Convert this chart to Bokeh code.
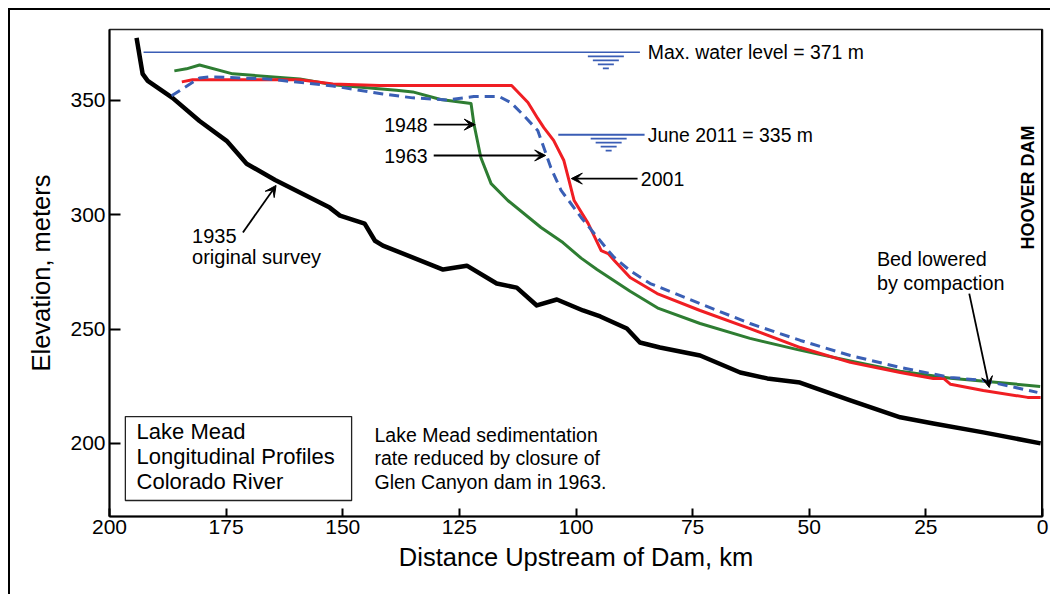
import math
from bokeh.plotting import figure
from bokeh.models import Range1d, Label, Arrow, VeeHead, Span, FixedTicker
from bokeh.embed import file_html
from bokeh.resources import INLINE

# ---------------- data ----------------
km_1935 = [194.2, 192.9, 191.8, 186.5, 180.7, 174.9, 170.6, 164.5, 152.8, 150.6,
           145.3, 143.1, 141.4, 128.5, 123.4, 117.0, 112.7, 108.4, 104.1, 98.5,
           94.8, 89.1, 86.3, 82.0, 73.4, 64.8, 59.0, 52.0, 41.2, 30.5,
           23.4, 12.7, 0.4]
elev_1935 = [377.3, 361.6, 358.5, 351.1, 341.0, 332.3, 322.3, 315.2, 303.1, 299.6,
             296.1, 288.6, 286.5, 276.0, 277.7, 269.9, 268.1, 260.3, 262.9, 258.1,
             255.5, 250.2, 244.1, 241.9, 238.4, 231.0, 228.4, 226.6, 218.8, 211.4,
             208.7, 204.8, 200.0]

km_1948 = [186.1, 183.5, 180.7, 173.6, 159.2, 152.1, 144.8, 138.5, 135.0, 129.0,
           122.5, 121.9, 120.4, 118.2, 114.6, 107.5, 102.8, 98.9, 95.5, 88.4,
           82.3, 73.4, 62.7, 52.5, 41.2, 30.5, 19.7, 0.5]
elev_1948 = [362.9, 363.8, 365.5, 361.6, 359.4, 356.8, 355.5, 354.4, 353.7, 350.4,
             348.6, 339.9, 325.0, 313.6, 306.2, 294.4, 287.8, 281.0, 276.0, 266.5,
             259.0, 252.4, 245.9, 241.0, 236.0, 231.5, 228.5, 224.9]

km_1963 = [186.7, 180.7, 178.5, 166.3, 152.1, 141.4, 135.0, 127.7, 121.9, 116.5,
           114.0, 111.2, 108.2, 106.9, 105.4, 103.2, 101.1, 98.9, 96.1, 93.1,
           91.8, 88.4, 84.1, 73.4, 62.7, 51.9, 41.2, 30.5, 19.7, 12.7, 1.1]
elev_1963 = [352.0, 359.8, 360.3, 359.4, 356.3, 352.8, 351.1, 350.2, 351.7, 351.7,
             349.1, 343.4, 336.8, 329.4, 320.6, 310.6, 304.9, 298.8, 291.8, 284.3,
             281.3, 275.5, 269.9, 261.1, 252.4, 245.0, 238.4, 233.2, 228.8, 227.5, 222.3]

km_2001 = [184.5, 182.2, 159.2, 152.1, 142.1, 113.8, 110.3, 108.2, 106.9, 104.8,
           102.6, 101.5, 100.4, 97.4, 94.6, 93.1, 91.8, 88.4, 82.6, 73.4,
           62.7, 51.9, 41.2, 30.5, 23.4, 21.2, 19.7, 12.7, 3.2, 0.4]
elev_2001 = [358.1, 359.0, 359.0, 357.2, 356.5, 356.5, 349.1, 342.1, 338.1, 332.5,
             323.7, 315.0, 306.2, 296.2, 284.3, 283.0, 280.0, 272.5, 265.5, 258.1,
             250.2, 241.9, 235.4, 231.0, 228.4, 228.4, 225.8, 223.1, 220.1, 220.1]

water_levels = [371, 335]
water_labels = ["Max. water level = 371 m", "June 2011 = 335 m"]

x_ticks = [200, 175, 150, 125, 100, 75, 50, 25, 0]
y_ticks = [200, 250, 300, 350]

FONT = "Liberation Sans"

# ---------------- figure ----------------
p = figure(width=1042, height=586, x_range=Range1d(200, 0), y_range=Range1d(168, 381),
           output_backend="svg", toolbar_location=None, title=None,
           min_border_left=99, min_border_right=10, min_border_top=19, min_border_bottom=80)
p.styles = {"margin-left": "8px", "margin-top": "8px",
            "border-left": "2px solid black", "border-top": "2px solid black"}
p.background_fill_color = "white"
p.border_fill_color = "white"
p.outline_line_color = "#222222"
p.outline_line_width = 1.5
p.xgrid.visible = False
p.ygrid.visible = False

for ax in (p.xaxis[0], p.yaxis[0]):
    ax.axis_line_width = 2
    ax.axis_line_color = "black"
    ax.major_tick_line_width = 2
    ax.major_tick_line_color = "black"
    ax.minor_tick_line_color = None
    ax.major_label_text_font = FONT
    ax.major_label_text_font_size = "21px"
    ax.major_label_text_color = "black"
    ax.axis_label_text_font = FONT
    ax.axis_label_text_font_size = "25.5px"
    ax.axis_label_text_font_style = "normal"
    ax.axis_label_text_color = "black"

p.xaxis.ticker = FixedTicker(ticks=x_ticks)
p.yaxis.ticker = FixedTicker(ticks=y_ticks)
p.xaxis.major_tick_in = 8
p.xaxis.major_tick_out = 0
p.xaxis.major_label_standoff = 3
p.xaxis.axis_label = "Distance Upstream of Dam, km"
p.xaxis.axis_label_standoff = 6
p.yaxis.major_tick_in = 11
p.yaxis.major_tick_out = 0
p.yaxis.major_label_standoff = 4
p.yaxis.axis_label = "Elevation, meters"
p.yaxis.axis_label_standoff = 12

# right wall (dam)
p.add_layout(Span(location=0, dimension="height", line_color="black", line_width=3))

# px -> data helpers for annotation sizes
PX_X = 200 / 933.0
PX_Y = 213 / 487.0

# water level lines + symbols
water_blue = "#3a5db5"
line_ext = [(192.7, 86.3), (103.8, 85.3)]
sym_center = [93.6, 93.0]
for lvl, lab, (x0, x1), c, lw in zip(water_levels, water_labels, line_ext, sym_center, [1.5, 2]):
    p.line([x0, x1], [lvl, lvl], line_color=water_blue, line_width=lw)
    offs = [4, 8, 12, 16]
    halfw = [18, 13, 8, 3]
    p.segment(x0=[c + h * PX_X for h in halfw], x1=[c - h * PX_X for h in halfw],
              y0=[lvl - o * PX_Y for o in offs], y1=[lvl - o * PX_Y for o in offs],
              line_color=water_blue, line_width=1.6)
    p.add_layout(Label(x=84.6, y=lvl, text=lab, text_font=FONT, text_font_size="19.4px",
                       text_baseline="middle", text_align="left", text_color="black"))

# profiles
p.line(km_1935, elev_1935, line_color="black", line_width=4.5, line_join="round")
p.line(km_1948, elev_1948, line_color="#2e7d32", line_width=3, line_join="round")
p.line(km_2001, elev_2001, line_color="#f01e23", line_width=3, line_join="round")
p.line(km_1963, elev_1963, line_color="#3a5fb5", line_width=3, line_dash="10 6")


def arrow(xs, ys, xe, ye):
    p.add_layout(Arrow(x_start=xs, y_start=ys, x_end=xe, y_end=ye, line_color="black",
                       line_width=1.8,
                       end=VeeHead(size=11, fill_color="black", line_color="black")))


def label(x, y, text, align="left", size="19.5px", **kw):
    p.add_layout(Label(x=x, y=y, text=text, text_font=FONT, text_font_size=size,
                       text_baseline="middle", text_align=align, text_color="black", **kw))


label(131.8, 339.2, "1948", align="right")
arrow(130.5, 339.4, 121.6, 339.4)
label(131.8, 325.5, "1963", align="right")
arrow(130.5, 325.9, 106.5, 325.9)
label(86.1, 315.8, "2001")
arrow(86.8, 315.8, 101.0, 315.8)

label(182.3, 290.9, "1935", size="20px")
label(182.3, 281.3, "original survey", size="20px")
arrow(171.4, 292.2, 164.3, 312.8)

label(35.5, 280.8, "Bed lowered", size="19.8px")
label(35.5, 270.3, "by compaction", size="19.8px")
arrow(15.7, 265.5, 11.4, 224.4)

label(3.2, 311.9, "HOOVER DAM", align="center", size="18px",
      angle=math.pi / 2, text_font_style="bold")

# info box
p.quad(left=[196.6], right=[148.1], top=[211.7], bottom=[175.0],
       fill_color=None, line_color="#222222", line_width=1.3)
label(194.2, 205.2, "Lake Mead", size="22px")
label(194.2, 194.3, "Longitudinal Profiles", size="22px")
label(194.2, 183.2, "Colorado River", size="22px")

label(143.2, 203.5, "Lake Mead sedimentation", size="19.5px")
label(143.2, 193.5, "rate reduced by closure of", size="19.5px")
label(143.2, 183.2, "Glen Canyon dam in 1963.", size="19.5px")

open("out.html", "w").write(file_html(p, INLINE))
